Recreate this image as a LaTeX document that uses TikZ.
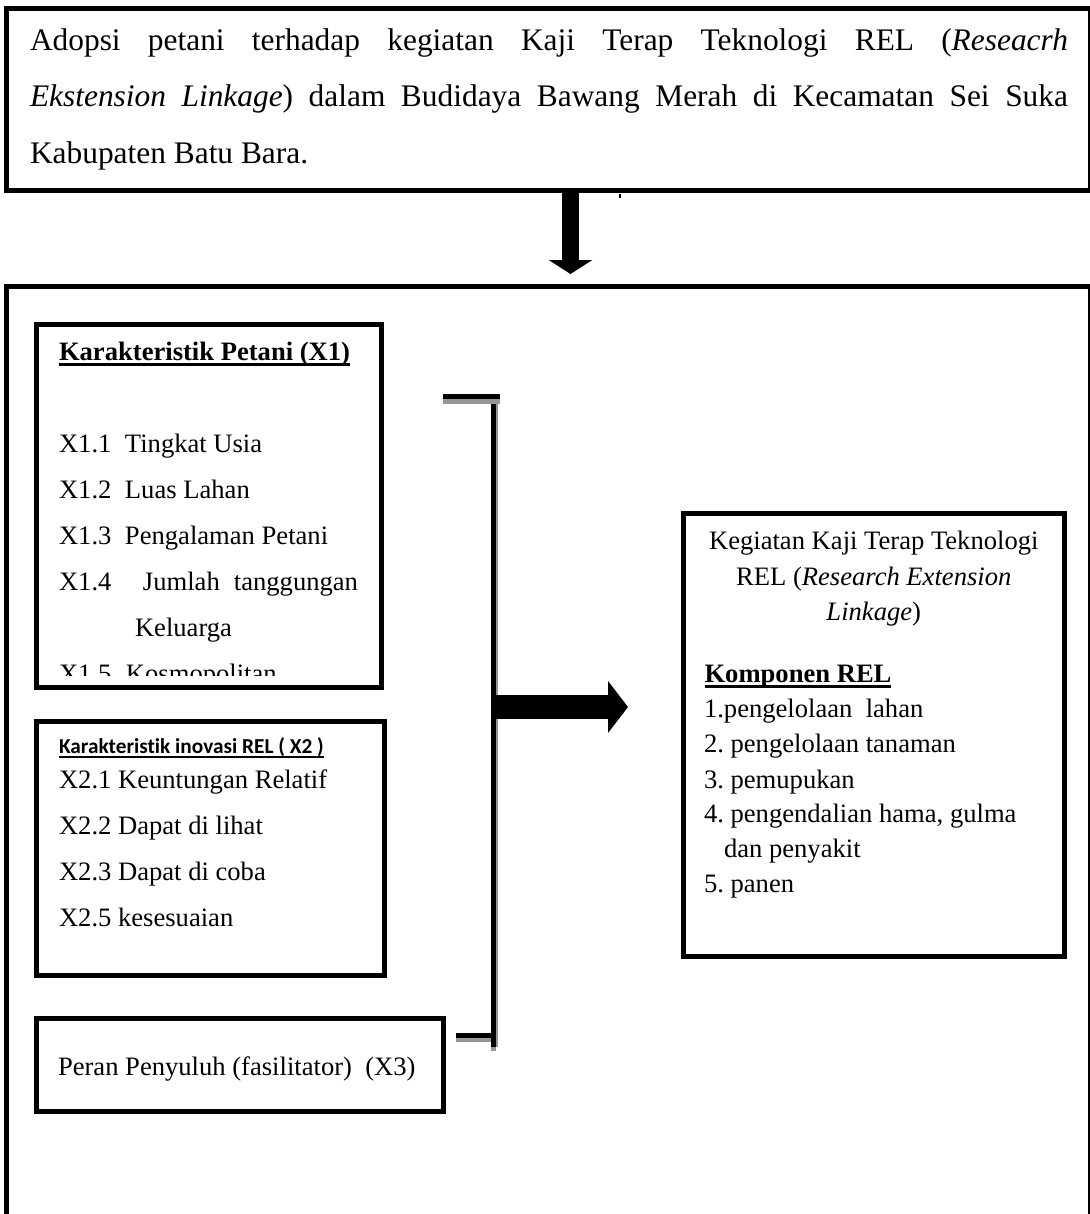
\documentclass[tikz,border=0pt]{standalone}
\usepackage{fontspec}
\setmainfont{Liberation Serif}
\newfontfamily\carlitofont[Ligatures=NoCommon]{Carlito}
\usetikzlibrary{arrows.meta}
\definecolor{shadowgray}{RGB}{150,150,150}
\newcommand\mainsz{\fontsize{13.3pt}{16pt}\selectfont}
\newcommand\topsz{\fontsize{15.7pt}{18pt}\selectfont}
\newcommand\titlesz{\carlitofont\bfseries\fontsize{10.65pt}{13pt}\selectfont}
\newcommand\ulbox[3]{\setbox0=\hbox{#3}\rlap{\rule[-#1]{\wd0}{#2}}\box0}
\frenchspacing
\begin{document}
\frenchspacing
\begin{tikzpicture}[x=0.5pt,y=-0.5pt,
  box/.style={draw, line width=2.5pt, rectangle, inner sep=0pt},
  txt/.style={anchor=base west, inner sep=0pt, outer sep=0pt, font=\mainsz},
  ttxt/.style={anchor=base west, inner sep=0pt, outer sep=0pt, font=\topsz},
  ctxt/.style={anchor=base, inner sep=0pt, outer sep=0pt, font=\mainsz},
  bar/.style={line width=2.5pt, black},
  shade/.style={line width=2.5pt, shadowgray},
  fatarrow/.style={line width=#1, black},
]
\useasboundingbox (0,0) rectangle (1089,1214);

% boxes
\node[box, minimum width=541.75pt, minimum height=91pt] (top) at (548.25,99.5) {};
\node[box, minimum width=541.75pt, minimum height=476.75pt] (big) at (548.25,763.25) {};
\node[box, minimum width=172.5pt, minimum height=181.5pt] (xa) at (209,506) {};
\node[box, minimum width=174pt, minimum height=127pt] (xb) at (210.5,848.5) {};
\node[box, minimum width=203.5pt, minimum height=46.5pt] (xc) at (240,1065) {};
\node[box, minimum width=190.25pt, minimum height=221.5pt] (rel) at (873.75,734.5) {};

% top text
\node[ttxt] (tl1) at (30,50.5) {\makebox[519pt][s]{Adopsi petani terhadap kegiatan Kaji Terap Teknologi REL (\textit{Reseacrh}}};
\node[ttxt] (tl2) at (30,107) {\makebox[519pt][s]{\textit{Ekstension Linkage}) dalam Budidaya Bawang Merah di Kecamatan Sei Suka}};
\node[ttxt] (tl3) at (30,164) {Kabupaten Batu Bara.};

% X1 box
\node[txt, font={\mainsz\bfseries}] (x1t) at (59,360) {\ulbox{3pt}{1.4pt}{Karakteristik Petani (X1)}};
\node[txt] (x11) at (59,452) {\makebox[33pt][l]{X1.1}Tingkat Usia};
\node[txt] (x12) at (59,498) {\makebox[33pt][l]{X1.2}Luas Lahan};
\node[txt] (x13) at (59,544) {\makebox[33pt][l]{X1.3}Pengalaman Petani};
\node[txt] (x14) at (59,590) {\makebox[42pt][l]{X1.4}\makebox[107.5pt][s]{Jumlah tanggungan}};
\node[txt] (x14b) at (135,636) {Keluarga};
\begin{scope}
\clip (39,327) rectangle (379,675);
\node[txt] (x15) at (59,682) {\makebox[33.5pt][l]{X1.5}Kosmopolitan};
\end{scope}

% X2 box
\node[txt, font=\titlesz] (x2t) at (59,753) {\ulbox{2.5pt}{1.1pt}{Karakteristik inovasi REL ( X2 )}};
\node[txt] (x21) at (59,788) {X2.1 Keuntungan Relatif};
\node[txt] (x22) at (59,834) {X2.2 Dapat di lihat};
\node[txt] (x23) at (59,880) {X2.3 Dapat di coba};
\node[txt] (x25) at (59,926) {X2.5 kesesuaian};

% X3 box
\node[txt] (x3t) at (58,1075) {Peran Penyuluh (fasilitator)\ \ (X3)};

% REL box
\node[ctxt] (r1) at (873.75,549) {Kegiatan Kaji Terap Teknologi};
\node[ctxt] (r2) at (873.75,585) {REL (\textit{Research Extension}};
\node[ctxt] (r3) at (873.75,620.5) {\textit{Linkage})};
\node[txt, font={\mainsz\bfseries}] (kt) at (704.5,682) {\ulbox{3pt}{1.4pt}{Komponen REL}};
\node[txt] (k1) at (704,717) {1.pengelolaan\ \ lahan};
\node[txt] (k2) at (704,752) {2. pengelolaan tanaman};
\node[txt] (k3) at (704,788) {3. pemupukan};
\node[txt] (k4) at (704,822) {4. pengendalian hama, gulma};
\node[txt] (k4b) at (724,857) {dan penyakit};
\node[txt] (k5) at (704,892) {5. panen};

% down arrow
\coordinate (d1) at (570.5,192.5);
\coordinate (d2) at (570.5,274);
\draw[fatarrow=8.5pt, -{Triangle[width=21.5pt,length=7pt]}] (d1) -- (d2);
\coordinate (t1) at (620,194);
\coordinate (t2) at (620,198);
\draw[line width=0.8pt] (t1) -- (t2);

% bracket
\coordinate (bt1) at (443,396.5);
\coordinate (bt2) at (500,396.5);
\coordinate (bs1) at (443,401.5);
\coordinate (bs2) at (500,401.5);
\coordinate (bv1) at (493.5,404);
\coordinate (bv2) at (493.5,1047);
\coordinate (bv3) at (493.5,1051);
\coordinate (bg1) at (497,404);
\coordinate (bg2) at (497,1047);
\coordinate (bb1) at (456,1035.3);
\coordinate (bb2) at (491,1035.3);
\coordinate (bc1) at (456,1040);
\coordinate (bc2) at (491,1040);
\draw[shade] (bs1) -- (bs2);
\draw[bar] (bt1) -- (bt2);
\draw[shadowgray, line width=1pt] (bg1) -- (bg2);
\draw[shadowgray, line width=2.5pt] (bv2) -- (bv3);
\draw[bar] (bv1) -- (bv2);
\draw[shadowgray, line width=1.7pt] (bc1) -- (bc2);
\draw[bar] (bb1) -- (bb2);

% right arrow
\coordinate (h1) at (496,707);
\coordinate (h2) at (628,707);
\draw[fatarrow=12pt, -{Triangle[width=25.5pt,length=10pt]}] (h1) -- (h2);
\end{tikzpicture}
\end{document}
